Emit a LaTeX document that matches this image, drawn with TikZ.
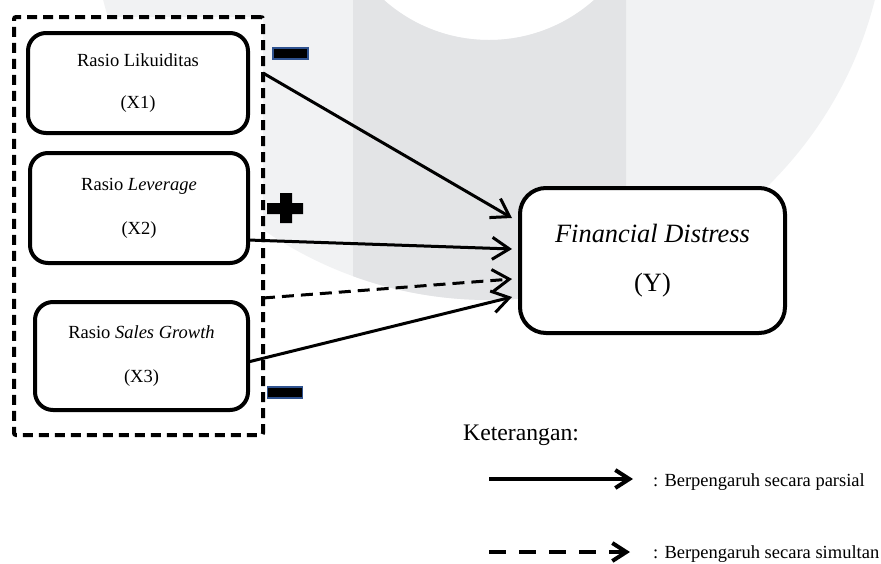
\documentclass[tikz,border=0pt]{standalone}
\usepackage{fontspec}
\setmainfont{Liberation Serif}
\usetikzlibrary{arrows.meta}
\definecolor{wmlight}{HTML}{F1F2F3}
\definecolor{wmdark}{HTML}{E3E4E6}
\definecolor{signblue}{HTML}{2F528F}
\newcommand{\boxfont}{\fontsize{18.5}{22.2}\selectfont}
\newcommand{\bigfont}{\fontsize{26.4}{31.7}\selectfont}
\newcommand{\ketfont}{\fontsize{23.7}{28.4}\selectfont}

\begin{document}
\begin{tikzpicture}[x=1pt,y=-1pt,
    >={Straight Barb[length=17pt,width=22pt]},
    var/.style={draw,line width=4pt,rounded corners=18pt,fill=white,align=center,
      font=\boxfont,inner sep=0pt,outer sep=0pt},
    minus/.style={draw=signblue,fill=black,line width=1.3pt,minimum width=35pt,
      minimum height=11pt,inner sep=0pt},
    legend/.style={anchor=west,inner sep=0pt,font=\boxfont}]
  \useasboundingbox (0,0) rectangle (881,563);
  \fill[wmlight,even odd rule] (489,-98) circle[radius=398pt] (489,-118) circle[radius=158pt];
  \begin{scope}
    \clip (353,0) rectangle (626,563);
    \fill[wmdark,even odd rule] (489,-98) circle[radius=398pt] (489,-118) circle[radius=158pt];
  \end{scope}

  \node[draw,fill=white,line width=4pt,dash pattern=on 10pt off 6pt,rounded corners=2pt,
    minimum width=249pt,minimum height=418pt,outer sep=0pt] (grp) at (138.5,226) {};
  \node[var,minimum width=220pt,minimum height=100pt] (X1) at (138,83) {Rasio Likuiditas\\[20.5pt](X1)};
  \node[var,minimum width=218pt,minimum height=110pt] (X2) at (139,208) {Rasio \textit{Leverage}\\[22pt](X2)};
  \node[var,minimum width=213pt,minimum height=108pt] (X3) at (141.5,356) {Rasio \textit{Sales Growth}\\[22pt](X3)};
  \node[var,rounded corners=26pt,font=\bigfont,minimum width=265pt,minimum height=145pt] (Y) at (652.5,260.5)
    {\textit{Financial Distress}\\[17pt](Y)};

  \draw[->,line width=3pt] ([yshift=153pt]grp.east) -- ([xshift=-8pt,yshift=42.5pt]Y.west);
  \draw[->,line width=3pt] ([yshift=-32pt]X2.east) -- ([xshift=-8pt,yshift=11.5pt]Y.west);
  \draw[->,line width=3pt,dash pattern=on 12pt off 7pt] ([yshift=-72pt]grp.east) -- ([xshift=-8pt,yshift=-18.5pt]Y.west);
  \draw[->,line width=3pt] ([yshift=-6pt]X3.east) -- ([xshift=-8pt,yshift=-36.5pt]Y.west);

  \node[minus] (m1) at (290.5,53.5) {};
  \node[minus] (m2) at (285,392.5) {};
  \fill (280,193) rectangle (292,223) (267,203) rectangle (303,214);

  \node[legend,font=\ketfont] (ket) at (463,435) {Keterangan:};
  \node[legend] (par) at (653,482) {: Berpengaruh secara parsial};
  \node[legend] (sim) at (653,554) {: Berpengaruh secara simultan};
  \coordinate (pa) at (489,479);
  \coordinate (sa) at (489,552);
  \draw[-{Straight Barb[length=14pt,width=18pt]},line width=4pt] (pa) -- ([xshift=-20pt]par.west |- pa);
  \draw[-{Straight Barb[length=14pt,width=18pt]},line width=4pt,dash pattern=on 17pt off 13pt]
    (sa) -- ([xshift=-23pt]sim.west |- sa);
\end{tikzpicture}
\end{document}
